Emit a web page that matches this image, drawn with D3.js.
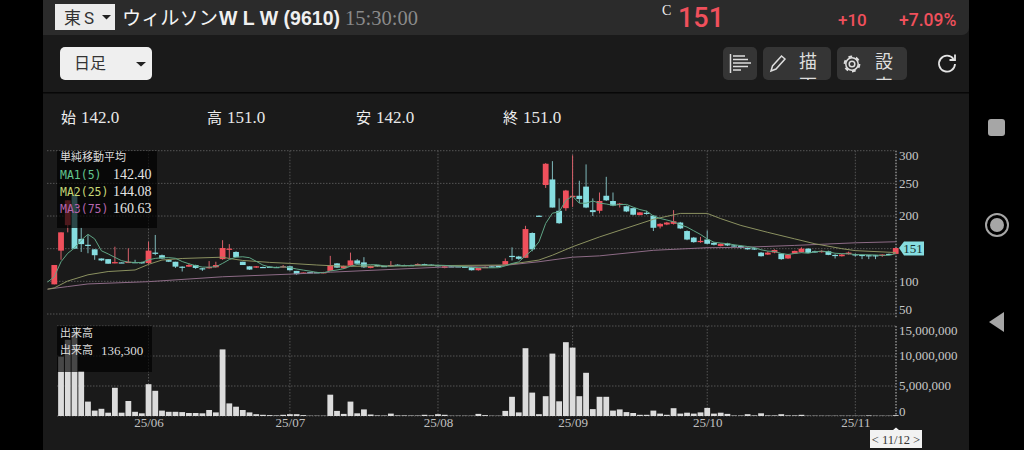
<!DOCTYPE html>
<html><head><meta charset="utf-8">
<script src="https://cdnjs.cloudflare.com/ajax/libs/d3/7.8.5/d3.min.js"></script>
<style>
html,body{margin:0;padding:0;background:#000;overflow:hidden}
svg{display:block}
text{font-family:"Liberation Serif","Noto Sans CJK JP",serif}
.sans{font-family:"Roboto","Noto Sans CJK JP",sans-serif}
.jp{font-family:"Noto Sans CJK JP",sans-serif}
</style></head><body><div id="c"></div>
<script>
const opens=[95.4,147,186,232,165,156,149,135,134,127.5,
129,128,129.5,129.5,128,144,140,132.5,130,122.5,
122.5,125,120,120,121.5,134,149,145,130,123,
121,122,122.5,122,121.5,123,116,112,114,114,
113,116,127.5,120,124,132,129,120.5,125,123.5,
123,125.5,125,125,125,126.5,125.5,125,120.5,123,
123,122.5,122,117,121.5,123,123.5,125.5,139,138,
136,174,200.5,247.5,256,208,212,229,231,245,
209,208,231,223,217,215,212,201.5,205,200.5,
184,187,188,190,177,167,160,164,159,154,
158,155,154,151,150.5,144,141,144,142.5,135,
142.6,144.6,150,146,144.6,146,140.5,138.5,141.5,141.5,
140.5,140,140,139,142,142];
const closes=[125,175,224,150,157,155,140,132,127,129.5,
128.5,130,129,127.5,147,142,135,130,122.5,122,
125,120.5,119,122,125,151,150,137,125,118,
123,121.5,122,121.5,123,117,111,113.5,113.5,113.5,
114,125,121,123.5,132,127,121.5,123.5,123,123,
125,125,124,124.5,126.5,125,124.5,123,123,122.5,
122.5,122,117,120.5,122,122,123,131,138.5,134.5,
180,149,200,280,213,189,239,231,226,213,
206,223,224,216,219,207,202,205.6,204,182,
188,190,192,181,164,160,162,157.5,156,157.5,
155,154,151,149,149,138.5,144,148,134,141,
146.6,150,143.6,144.6,146.6,140.5,139.5,141,144,140,
139.5,139,139,141,141,151];
const highs=[125,175,224,242,182,171,149,135,134,153,
129,150.5,133,130,160.7,171,141,133,130,123,
127.5,125.5,120.5,131,130,163,157,146,130,123,
123.5,122.5,123,122.5,125,123,116,113.5,114.5,114.5,
114.5,139,128,124,144,134,137,124,125,124,
131,126,125.5,125.5,127.5,127,126,125.5,123.5,123.5,
123.5,123,122.5,121,123,124,124,135,152,139,
185,175,201,281,284,227,240,293,254,279,
227,236,260,236,220,216,212.5,206,208,201,
189,191,209,191,178,168,168,178,160,158,
159,156,155,152,151.5,145,146,149,143,142,
147,152,151,147,147.5,147,141.5,142,145.5,142.5,
141,140.5,140.5,141.5,142.5,151];
const lows=[95.4,133,175,150,145,143,133,131,127,127.5,
128,128,128.5,127,126,140,134.5,129.5,120.5,115,
122,119,116,119.5,121,133,135,137,125,117.5,
120.5,121,122,121,121,116.5,110,111.5,113,113,
112.5,116,120.5,119,123.5,127,120.5,120,122.5,122.5,
122.5,124.5,123.5,124,124.5,124.5,124,122.5,120,122,
122,121.5,116.5,116.5,121,121.5,122.5,125,132,133,
136,146,199.5,243,213,188,208,214,220,212,
200,204,223,215,213,206,201,201,202,177,
181,186,187,180,163,159,159,157,155,153.5,
154,153,150,148.5,148,138,140.5,143,133,134.5,
142,144,143,144,144,140,135,138,141,138,
134,134,134,137.5,140,142];
// volume in millions of shares
const volumes=[0,9.9,12.7,13.8,7.5,2.4,0.9,1.2,0.55,4.7,
0.55,2.5,0.7,0.45,5.3,4.2,0.9,0.7,0.7,0.65,
0.5,0.5,0.45,1.0,0.6,11.1,2.1,1.55,1.0,0.6,
0.3,0.2,0.15,0.1,0.2,0.3,0.3,0.15,0.05,0.05,
0.05,3.55,0.85,0.35,2.4,0.45,1.1,0.25,0.1,0.08,
0.4,0.1,0.1,0.08,0.08,0.2,0.1,0.3,0.2,0.05,
0.05,0.05,0.05,0.35,0.15,0.05,0.05,0.85,3.2,0.6,
11.3,3.9,0.3,3.3,10.4,2.45,12.3,11.4,3.3,7.2,
1.15,3.2,3.2,0.9,1.1,0.65,0.5,0.2,0.2,0.9,
0.4,0.2,1.3,0.4,0.55,0.4,0.6,1.35,0.4,0.55,
0.35,0.08,0.08,0.3,0.1,0.45,0.1,0.1,0.3,0.1,
0.1,0.2,0.05,0.05,0.05,0.05,0.05,0.05,0.05,0.05,
0.05,0.1,0.05,0.05,0.05,0.1363];
// MA1 starts one session before the first visible candle
const ma1=[99,107,130,143,151,163,172,165,146.8,142,136.7,
131.6,129.4,128.8,128.9,133,135.1,136.1,136.3,135.3,130.3,
126.9,124,121.8,121.7,122.3,127.5,133.4,137,137.6,136.2,
130.6,124.9,121.9,121.2,122.2,121,118.9,117.2,115.6,113.7,
113.1,115.9,117.4,119.4,123.1,125.7,125,125.5,125.4,123.6,
123.2,123.9,124,124.3,125,125,124.9,124.7,124.4,123.6,
123.1,122.6,121.4,120.9,120.8,120.7,120.9,123.7,127.3,129.8,
139,148,160.4,188.7,204.4,206.2,224.2,230.4,219.6,219.6,
223,219.8,218.4,216.4,217.6,217.8,213.6,209.9,207.5,200.1,
196.3,193.9,191.2,186.6,183,177.4,171.8,164.9,159.9,158.6,
157.6,156,154.7,153.3,151.6,148.3,146.3,145.7,142.7,141.1,
142.7,143.9,143,145.2,146.2,145.1,143,142.4,142.3,141,
140.8,140.7,140.3,139.7,139.9,142.4];
const ma2Sessions=[-1,0,2,5,8,12,14,16,19,25,26,28,32,35,39,41,44,56,67,72,74,77,81,89,93,97,99,102,106,110,113,117,119,125];
const ma2Values=[88,90,100.5,110,115,117.4,126,132.6,135,137,135,132,129,127.5,125,124,123,124,125,132.6,140,153,168,195,204,204,196,185.6,175,165,157.5,150,147,144.1];
const ma3Sessions=[-1,2,5,14,25,35,41,57,67,72,77,81,89,97,102,110,119,125];
const ma3Values=[88,92,96,99.5,107,111,114,121.5,124.5,130,137,139,147.5,151.5,152,155,159,160.6];
const priceGrid=[300,250,200,150,100,50];
const priceTicks=[300,250,200,100,50];
const volumeTicks=[15e6,10e6,5e6,0];
const volumeTickLabels=["15,000,000","10,000,000","5,000,000","0"];
const monthSessions=[14,35,57,77,97,119];
const monthLabels=["25/06","25/07","25/08","25/09","25/10","25/11"];
const legendRows=[["MA1(5)","142.40"],["MA2(25)","144.08"],["MA3(75)","160.63"]];
const ohlcLabels=[["始","142.0"],["高","151.0"],["安","142.0"],["終","151.0"]];

const UP="#f0505c",DOWN="#86dde0";
const svg=d3.select("#c").append("svg").attr("width",1024).attr("height",450);
const x=d3.scaleLinear().domain([0,125]).range([54.3,895.7]);
const yP=d3.scaleLinear().domain([50,300]).range([314,150.7]);
const yV=d3.scaleLinear().domain([0,15e6]).range([416,326]);

// page
svg.append("rect").attr("width",1024).attr("height",450).attr("fill","#000");
svg.append("rect").attr("x",43).attr("y",0).attr("width",926).attr("height",450).attr("fill","#1a1a1a");
svg.append("path").attr("d","M43,0H969V28a7,7 0 0 1 -7,7H43Z").attr("fill","#2b2b2b");
svg.append("rect").attr("x",43).attr("y",92).attr("width",926).attr("height",1.5).attr("fill","#070707");

// header
svg.append("rect").attr("x",55).attr("y",4).attr("width",60).attr("height",26).attr("fill","#ececec");
svg.append("text").attr("class","jp").attr("x",64).attr("y",24).attr("font-size",17).attr("fill","#333").text("東");
svg.append("text").attr("class","sans").attr("x",84).attr("y",24).attr("font-size",17).attr("fill","#333").text("S");
svg.append("path").attr("d","M102,15h9l-4.5,4.5Z").attr("fill","#222");
svg.append("text").attr("class","jp").attr("x",122).attr("y",24.5).attr("font-size",19.2).attr("fill","#f4f4f4").text("ウィルソン");
svg.append("text").attr("x",219).attr("y",24.5).attr("font-size",19.5).attr("font-weight","bold").style("font-family","'Liberation Sans',sans-serif").attr("fill","#f0f0f0").text("W L W (9610)");
svg.append("text").attr("x",345).attr("y",25).attr("font-size",20.5).attr("fill","#8a8a8a").text("15:30:00");
svg.append("text").attr("x",662).attr("y",15).attr("font-size",14).attr("fill","#eee").text("C");
svg.append("text").attr("class","sans").attr("x",678).attr("y",27).attr("font-size",27).attr("font-weight",500).attr("fill",UP).text("151");
svg.append("text").attr("class","sans").attr("x",838).attr("y",26).attr("font-size",17).attr("font-weight",500).attr("fill",UP).text("+10");
svg.append("text").attr("class","sans").attr("x",899).attr("y",26).attr("font-size",17.5).attr("font-weight",500).attr("fill",UP).text("+7.09%");

// toolbar
svg.append("rect").attr("x",60).attr("y",47).attr("width",92).attr("height",33).attr("rx",5).attr("fill","#efefef");
svg.append("text").attr("class","jp").attr("x",74).attr("y",69).attr("font-size",16).attr("fill","#333").text("日足");
svg.append("path").attr("d","M136,62h10l-5,4.5Z").attr("fill","#222");
const clip=svg.append("defs");
[[723,34],[763,68],[837,70]].forEach((b,k)=>{
  svg.append("rect").attr("x",b[0]).attr("y",47).attr("width",b[1]).attr("height",33).attr("rx",5).attr("fill","#353535");
  clip.append("clipPath").attr("id","btn"+k).append("rect").attr("x",b[0]).attr("y",47).attr("width",b[1]).attr("height",33);
});
const ico=svg.append("g").attr("stroke","#ddd").attr("fill","none").attr("stroke-width",1.5);
ico.append("path").attr("d","M730.5,54V73M733,56h12M733,59.5h15M733,63h18M733,66.5h15M733,70h8");
ico.append("path").attr("d","M771,71l1.5,-5l9,-10l3.5,3l-9,10Z");
ico.append("circle").attr("cx",852).attr("cy",64).attr("r",2.8);
ico.append("circle").attr("cx",852).attr("cy",64).attr("r",6.2);
ico.append("circle").attr("cx",852).attr("cy",64).attr("r",7.4).attr("stroke-width",2).attr("stroke-dasharray","3.8 3.95");
ico.append("path").attr("d","M953.5,59a8,8 0 1 0 1.5,5").attr("stroke-width",1.8).attr("stroke","#e4e4e4");
ico.append("path").attr("d","M955,54.5v5.5h-5.5").attr("stroke-width",1.8).attr("stroke","#e4e4e4");
[["描","画",808,1],["設","定",884,2]].forEach(d=>{
  const g=svg.append("g").attr("clip-path",`url(#btn${d[3]})`);
  g.append("text").attr("class","jp").attr("x",d[2]).attr("y",68).attr("font-size",18).attr("text-anchor","middle").attr("fill","#ddd").text(d[0]);
  g.append("text").attr("class","jp").attr("x",d[2]).attr("y",92).attr("font-size",18).attr("text-anchor","middle").attr("fill","#ddd").text(d[1]);
});

// OHLC row
[61,207,356,503].forEach((px,i)=>{
  svg.append("text").attr("class","jp").attr("x",px).attr("y",123).attr("font-size",15).attr("fill","#eee").text(ohlcLabels[i][0]);
  svg.append("text").attr("x",px+20).attr("y",123).attr("font-size",17).attr("fill","#e8e8e8").text(ohlcLabels[i][1]);
});

// grid
const grid=svg.append("g").attr("stroke","#555").attr("stroke-dasharray","1.5 1.5").attr("stroke-width",1);
priceGrid.forEach(t=>grid.append("line").attr("x1",47).attr("x2",896).attr("y1",yP(t)).attr("y2",yP(t)));
volumeTicks.forEach(t=>grid.append("line").attr("x1",57).attr("x2",896).attr("y1",yV(t)).attr("y2",yV(t)));
monthSessions.forEach(m=>{
  grid.append("line").attr("x1",x(m)).attr("x2",x(m)).attr("y1",150.7).attr("y2",318);
  grid.append("line").attr("x1",x(m)).attr("x2",x(m)).attr("y1",326).attr("y2",416);
});
const edge=svg.append("g").attr("stroke","#c8c8c8").attr("stroke-dasharray","1.5 1.5");
edge.append("line").attr("x1",896).attr("x2",896).attr("y1",150.7).attr("y2",318);
edge.append("line").attr("x1",896).attr("x2",896).attr("y1",326).attr("y2",416);

// plot clip
clip.append("clipPath").attr("id","plot").append("rect").attr("x",47).attr("y",150).attr("width",852).attr("height",168);

// candles
const idx=d3.range(opens.length);
const candles=svg.append("g").attr("clip-path","url(#plot)");
candles.selectAll("line").data(idx).join("line")
  .attr("x1",i=>x(i)).attr("x2",i=>x(i)).attr("y1",i=>yP(highs[i])).attr("y2",i=>yP(lows[i]))
  .attr("stroke",i=>closes[i]>=opens[i]?"#d9606a":"#7fb9bb").attr("stroke-width",1);
candles.selectAll("rect").data(idx).join("rect")
  .attr("x",i=>x(i)-2.9).attr("width",5.8)
  .attr("y",i=>yP(Math.max(opens[i],closes[i])))
  .attr("height",i=>Math.max(1.2,Math.abs(yP(opens[i])-yP(closes[i]))))
  .attr("fill",i=>closes[i]>=opens[i]?UP:DOWN);

// moving averages
const line=d3.line().x(d=>x(d[0])).y(d=>yP(d[1]));
const ml=svg.append("g").attr("clip-path","url(#plot)").attr("fill","none").attr("stroke-width",1);
ml.append("path").attr("d",line(ma3Sessions.map((s,i)=>[s,ma3Values[i]]))).attr("stroke","#8d6b86");
ml.append("path").attr("d",line(ma2Sessions.map((s,i)=>[s,ma2Values[i]]))).attr("stroke","#8b9160");
ml.append("path").attr("d",line(ma1.map((v,i)=>[i-1,v]))).attr("stroke","#5fa585");

// volume
svg.append("g").selectAll("rect").data(idx).join("rect")
  .attr("x",i=>x(i)-2.9).attr("width",5.8)
  .attr("y",i=>yV(volumes[i]*1e6)).attr("height",i=>yV(0)-yV(volumes[i]*1e6))
  .attr("fill","#dcdcdc");

// axes
const axP=svg.append("g").attr("transform","translate(899,0)")
  .call(d3.axisRight(yP).tickValues(priceTicks).tickSize(0).tickPadding(0));
axP.select(".domain").remove();
axP.selectAll("g.tick").attr("transform",d=>`translate(0,${Math.min(309.5,Math.max(156,yP(d)))})`);
axP.selectAll("text").attr("font-size",13).attr("fill","#c8c8c8").style("font-family","'Liberation Serif',serif");
const axV=svg.append("g").attr("transform","translate(899,0)")
  .call(d3.axisRight(yV).tickValues(volumeTicks).tickSize(0).tickPadding(0).tickFormat((d,i)=>volumeTickLabels[i]));
axV.select(".domain").remove();
axV.selectAll("g.tick").attr("transform",d=>`translate(0,${yV(d)+(d===0?-4.5:d===15e6?4.5:0)})`);
axV.selectAll("text").attr("font-size",13).attr("fill","#c8c8c8").style("font-family","'Liberation Serif',serif");
const axX=svg.append("g").attr("transform","translate(0,418)")
  .call(d3.axisBottom(x).tickValues(monthSessions).tickSize(0).tickPadding(0).tickFormat((d,i)=>monthLabels[i]));
axX.select(".domain").remove();
axX.selectAll("text").attr("font-size",13).attr("fill","#c0c0c0").style("font-family","'Liberation Serif',serif");

// legend overlays
svg.append("rect").attr("x",57).attr("y",151).attr("width",100).attr("height",77).attr("fill","#000").attr("opacity",.68);
svg.append("text").attr("class","jp").attr("x",60).attr("y",161).attr("font-size",11).attr("fill","#ddd").text("単純移動平均");
const legendCols=["#62c48f","#c6d777","#b565ad"];
legendRows.forEach((r,i)=>{
  const ly=179+i*17.2;
  svg.append("text").attr("x",60).attr("y",ly).attr("font-size",11.5).style("font-family","'DejaVu Sans Mono',monospace").attr("fill",legendCols[i]).text(r[0]);
  svg.append("text").attr("x",113).attr("y",ly).attr("font-size",14).attr("fill","#e4e4e4").text(r[1]);
});
svg.append("rect").attr("x",57).attr("y",326).attr("width",95).attr("height",46).attr("fill","#000").attr("opacity",.68);
svg.append("text").attr("class","jp").attr("x",60).attr("y",337).attr("font-size",11).attr("fill","#ddd").text("出来高");
svg.append("text").attr("class","jp").attr("x",60).attr("y",354).attr("font-size",11).attr("fill","#ddd").text("出来高");
svg.append("text").attr("x",101).attr("y",354.5).attr("font-size",13).attr("fill","#ddd").text("136,300");

// current price tag
const py=yP(closes[closes.length-1]);
svg.append("path").attr("d",`M899,${py}l5,-6.5h20v14h-20Z`).attr("fill",DOWN);
svg.append("text").attr("x",913).attr("y",py+4.5).attr("font-size",13).attr("text-anchor","middle").attr("fill","#14302f").text(closes[closes.length-1]);

// date tag
svg.append("path").attr("d","M870,430H893l3,-2.5l3,2.5H922V448H870Z").attr("fill","#f2f2f2");
svg.append("text").attr("x",896).attr("y",444).attr("font-size",12.5).attr("text-anchor","middle").attr("fill","#333").text("< 11/12 >");

// android navigation
const nav=svg.append("g").attr("fill","#a6a6a6");
nav.append("rect").attr("x",988).attr("y",119).attr("width",17).attr("height",17).attr("rx",3);
nav.append("circle").attr("cx",997).attr("cy",225).attr("r",7);
nav.append("circle").attr("cx",997).attr("cy",225).attr("r",11).attr("fill","none").attr("stroke","#a6a6a6").attr("stroke-width",2);
nav.append("path").attr("d","M989,322l15,-10v20Z");
</script></body></html>
